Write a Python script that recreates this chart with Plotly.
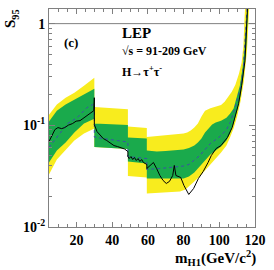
import plotly.graph_objects as go

# ---- data (mass in GeV/c^2, S95 values) ----
yt_m = [4.6, 9.0, 13.9, 18.8, 24.2, 30.0,
        30.0, 40.0, 48.8,
        48.8, 59.4,
        59.4, 65, 70, 75, 80, 82, 84, 86, 88, 90, 92, 95, 98, 101, 103, 105, 107, 109, 111, 112.5, 113.5, 114.0, 114.6, 115.2]
yt_s = [0.127, 0.160, 0.187, 0.209, 0.245, 0.294,
        0.151, 0.147, 0.144,
        0.0971, 0.0939,
        0.0766, 0.0784, 0.0793, 0.0811, 0.0829, 0.0848, 0.0887, 0.0950, 0.104, 0.122, 0.139, 0.147, 0.153, 0.158, 0.171, 0.191, 0.214, 0.251, 0.321, 0.412, 0.604, 1.0, 1.67, 2.62]

yb_m = [4.6, 9.0, 13.9, 18.8, 24.2, 30.0,
        30.0, 40.0, 48.8,
        48.8, 59.4,
        59.4, 70, 78, 81, 83, 86, 89, 92, 95, 98, 101, 104, 106, 108, 110, 112, 113.8, 115.5, 116.3, 116.9, 117.5]
yb_s = [0.0329, 0.0461, 0.0565, 0.0708, 0.0829, 0.0928,
        0.0611, 0.0598, 0.0584,
        0.0318, 0.0307,
        0.0214, 0.0219, 0.0224, 0.0234, 0.0251, 0.0281, 0.0314, 0.0360, 0.0412, 0.0471, 0.0540, 0.0632, 0.0757, 0.0928, 0.122, 0.175, 0.274, 0.540, 1.0, 1.67, 2.62]

gt_m = [4.6, 9.0, 13.9, 18.8, 24.2, 30.0,
        30.0, 40.0, 48.8,
        48.8, 59.4,
        59.4, 65, 70, 75, 80, 83, 86, 88, 90, 92, 94, 96, 98, 101, 104, 106, 108, 110, 111.5, 113, 114, 115, 115.6, 116.2]
gt_s = [0.109, 0.139, 0.160, 0.179, 0.200, 0.229,
        0.104, 0.1016, 0.1005,
        0.0757, 0.0741,
        0.0565, 0.0552, 0.0559, 0.0565, 0.0578, 0.0598, 0.0632, 0.0677, 0.0741, 0.0848, 0.0928, 0.1016, 0.1063, 0.1112, 0.119, 0.130, 0.146, 0.191, 0.245, 0.360, 0.540, 1.0, 1.67, 2.62]

gb_m = [4.6, 9.0, 13.9, 18.8, 24.2, 30.0,
        30.0, 40.0, 48.8,
        48.8, 59.4,
        59.4, 70, 80, 83, 86, 89, 92, 95, 98, 101, 104, 106, 108, 110, 112, 113.5, 115, 115.8, 116.4, 117.0]
gb_s = [0.0431, 0.0565, 0.0677, 0.0848, 0.104, 0.116,
        0.0611, 0.0598, 0.0584,
        0.0441, 0.0421,
        0.0300, 0.0300, 0.0300, 0.0314, 0.0344, 0.0394, 0.0451, 0.0516, 0.0565, 0.0618, 0.0708, 0.0829, 0.104, 0.139, 0.200, 0.307, 0.540, 1.0, 1.67, 2.62]

exp_m = [4.6, 9.6, 15.0, 20.4, 25.8, 30.0,
         30.0, 35, 40, 45, 48.8,
         48.8, 54, 59.4,
         59.4, 65, 70, 75, 80, 83, 86, 89, 92, 95, 98, 101, 104, 106, 108, 110, 112, 113.5, 114.6, 115.3, 115.9, 116.5]
exp_s = [0.0606, 0.0793, 0.104, 0.119, 0.149, 0.163,
         0.0766, 0.0741, 0.0716, 0.0700, 0.0684,
         0.0493, 0.0482, 0.0471,
         0.0368, 0.0372, 0.0381, 0.0389, 0.0398, 0.0412, 0.0451, 0.0504, 0.0578, 0.0662, 0.0724, 0.0793, 0.0907, 0.106, 0.133, 0.175, 0.240, 0.385, 0.677, 1.0, 1.67, 2.62]

obs_m = [4.6, 6.3, 7.9, 9.6, 11.7, 13.4, 15.5, 17.7, 19.8, 22.0, 24.2, 26.3, 28.5, 29.7, 30.0,
         30.0, 31.5, 33, 35, 37, 39, 41, 43, 45, 47, 48.8,
         48.8, 49.5, 50.5, 51.5, 52.5, 53.5, 54.5, 55.5, 56.5, 57.5, 58.5, 59.4,
         59.4, 61.3, 63.1, 64.9, 66.7, 68.5, 70.3, 72.1, 73.9, 74.8, 75.7, 78.4, 80.2, 82.9, 85.6, 88.3, 91.0,
         93.7, 95.5, 98.2, 100.9, 104.5, 107.2, 110.8, 112.5, 114.4, 115.1, 115.8, 116.5]
obs_s = [0.0692, 0.0811, 0.0907, 0.0950, 0.0928, 0.0950, 0.1005, 0.1039, 0.1099, 0.1112, 0.119, 0.1259, 0.1332, 0.1393, 0.1868,
         0.1016, 0.0867, 0.0811, 0.0741, 0.0708, 0.0669, 0.0632, 0.0618, 0.0604, 0.0584, 0.0552,
         0.0493, 0.0471, 0.0493, 0.0461, 0.0482, 0.0451, 0.0471, 0.0441, 0.0461, 0.0431, 0.0421, 0.0412,
         0.0376, 0.0403, 0.0431, 0.0376, 0.0321, 0.0287, 0.0268, 0.0281, 0.0321, 0.0403, 0.0321, 0.0307, 0.0256, 0.0209, 0.0239, 0.0300, 0.0352,
         0.0431, 0.0504, 0.0591, 0.0632, 0.0757, 0.0950, 0.163, 0.245, 0.431, 1.0, 1.67, 2.62]

x_ticks = [20, 40, 60, 80, 100, 120]
y_ticks = [0.01, 0.1, 1]
y_ticktext = ["10<sup>-2</sup>", "10<sup>-1</sup>", "1"]

YELLOW = "#F8EC1E"
GREEN = "#1AAA4C"
SERIF = "Liberation Serif"

fig = go.Figure()
fig.add_trace(go.Scatter(x=yt_m + yb_m[::-1], y=yt_s + yb_s[::-1], fill="toself",
                         fillcolor=YELLOW, line=dict(width=0), mode="lines", hoverinfo="skip"))
fig.add_trace(go.Scatter(x=gt_m + gb_m[::-1], y=gt_s + gb_s[::-1], fill="toself",
                         fillcolor=GREEN, line=dict(width=0), mode="lines", hoverinfo="skip"))
fig.add_trace(go.Scatter(x=exp_m, y=exp_s, mode="lines",
                         line=dict(color="#3B4FA8", width=1, dash="dot")))
fig.add_trace(go.Scatter(x=obs_m, y=obs_s, mode="lines",
                         line=dict(color="black", width=1)))

fig.add_shape(type="line", xref="paper", x0=0, x1=1, yref="y", y0=1, y1=1,
              line=dict(color="#808080", width=1), layer="below")

tickfont = dict(family=SERIF, size=14, color="black", weight="bold")
fig.update_xaxes(range=[4.6, 120], tickvals=x_ticks, ticks="inside", ticklen=5, tickcolor="#808080",
                 showline=True, linecolor="#808080", linewidth=1, mirror="ticks", showgrid=False,
                 zeroline=False, tickfont=tickfont,
                 minor=dict(ticks="inside", ticklen=3, tickcolor="#808080", dtick=5, showgrid=False))
fig.update_yaxes(type="log", range=[-2, 0.144], tickvals=y_ticks, ticktext=y_ticktext,
                 ticks="inside", ticklen=6, tickcolor="#808080",
                 showline=True, linecolor="#808080", linewidth=1, mirror="ticks", showgrid=False,
                 zeroline=False, tickfont=tickfont,
                 minor=dict(ticks="inside", ticklen=3, tickcolor="#808080", showgrid=False,
                            tickvals=[0.02, 0.03, 0.04, 0.05, 0.06, 0.07, 0.08, 0.09,
                                      0.2, 0.3, 0.4, 0.5, 0.6, 0.7, 0.8, 0.9]))

ann_font = dict(family=SERIF, color="black", weight="bold")
fig.add_annotation(text="LEP", xref="paper", yref="paper", x=0.347, y=0.892,
                   xanchor="left", yanchor="middle", showarrow=False, font=dict(size=15, **ann_font))
fig.add_annotation(text="(c)", xref="paper", yref="paper", x=0.061, y=0.845,
                   xanchor="left", yanchor="middle", showarrow=False, font=dict(size=13, **ann_font))
fig.add_annotation(text="√s = 91-209 GeV", xref="paper", yref="paper", x=0.347, y=0.808,
                   xanchor="left", yanchor="middle", showarrow=False, font=dict(size=12, **ann_font))
fig.add_annotation(text="H→τ<sup>+</sup>τ<sup>-</sup>", xref="paper", yref="paper", x=0.347, y=0.715,
                   xanchor="left", yanchor="middle", showarrow=False, font=dict(size=12, **ann_font))
fig.add_annotation(text="S<sub>95</sub>", xref="paper", yref="paper", x=-0.183, y=0.955,
                   xanchor="center", yanchor="middle", textangle=-90, showarrow=False,
                   font=dict(size=15, **ann_font))
fig.add_annotation(text="m<sub>H1</sub>(GeV/c<sup>2</sup>)", xref="paper", yref="paper", x=1.014, y=-0.142,
                   xanchor="right", yanchor="middle", showarrow=False, font=dict(size=15, **ann_font))

fig.update_layout(width=274, height=270, margin=dict(l=49, r=12, t=8, b=43),
                  paper_bgcolor="white", plot_bgcolor="white", showlegend=False)

fig.write_html("out.html", config={"displayModeBar": False},
               post_script="document.body.style.margin='0';document.body.style.overflow='hidden';")
